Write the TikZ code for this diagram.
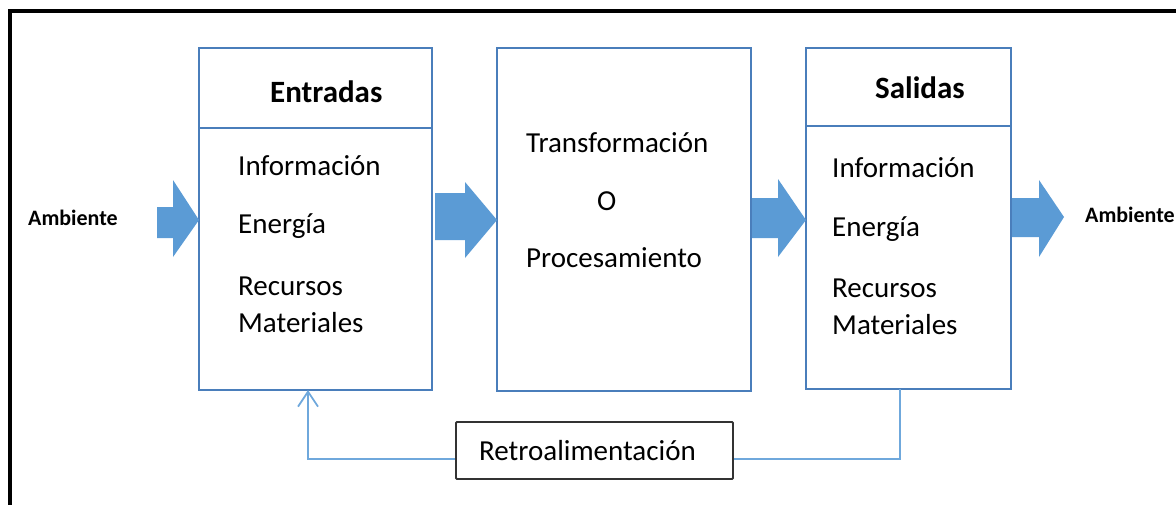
\documentclass[tikz,border=0pt]{standalone}
\usepackage{fontspec}
\setmainfont{Carlito}
\usetikzlibrary{arrows.meta}
\definecolor{boxblue}{HTML}{4A7EBB}
\definecolor{arrowblue}{HTML}{5B9BD5}
\definecolor{fbblue}{HTML}{6FA8DC}
\tikzset{
  sysbox/.style={draw=boxblue, line width=1.6pt, fill=white, inner sep=0pt},
  hline/.style={draw=boxblue, line width=1.6pt},
  txt/.style={anchor=base west, inner sep=0pt, font=\fontsize{29}{34}\selectfont},
  head/.style={anchor=base west, inner sep=0pt, font=\fontsize{31}{36}\selectfont\bfseries},
  amb/.style={anchor=base west, inner sep=0pt, font=\fontsize{22}{26}\selectfont\bfseries},
  blockarrow/.style={fill=arrowblue, draw=none},
  fbline/.style={draw=fbblue, line width=1.8pt},
  fbbox/.style={draw=black!80, line width=1.8pt, rounded corners=1pt, fill=white,
    minimum width=277pt, minimum height=57pt, inner sep=0pt, font=\fontsize{29}{34}\selectfont}
}
\begin{document}
\begin{tikzpicture}[x=1pt,y=-1pt]
\useasboundingbox (0,0) rectangle (1176,504);
\clip (0,0) rectangle (1176,504);
% outer frame
\draw[line width=3.6pt] (10,11) rectangle (1200,530);

% boxes
\node[sysbox, minimum width=233pt, minimum height=342pt] (ent) at (315.5,219) {};
\node[sysbox, minimum width=254pt, minimum height=343pt] (mid) at (624,219.5) {};
\node[sysbox, minimum width=205pt, minimum height=341pt] (sal) at (908.5,218.5) {};
\draw[hline] (ent.west |- {(0,128)}) -- (ent.east |- {(0,128)});
\draw[hline] (sal.west |- {(0,126)}) -- (sal.east |- {(0,126)});

% block arrows
\path[blockarrow] (157,207) -- (173,207) -- (173,180) -- (199,220) -- (173,257) -- (173,238) -- (157,238) -- cycle;
\path[blockarrow] (435,193) -- (465,193) -- (465,182) -- (497,220) -- (465,258) -- (465,240) -- (435,240) -- cycle;
\path[blockarrow] (752,198) -- (778,198) -- (778,179) -- (806,220) -- (778,257) -- (778,238) -- (752,238) -- cycle;
\path[blockarrow] (1012,198) -- (1039,198) -- (1039,180) -- (1064,217) -- (1039,257) -- (1039,237) -- (1012,237) -- cycle;

% texts
\node[amb] (amb1) at (28,225) {Ambiente};
\node[amb] (amb2) at (1085,222) {Ambiente};

\node[head] (enth) at (270,102) {Entradas};
\node[txt] (e1) at (238,175) {Información};
\node[txt] (e2) at (238,233) {Energía};
\node[txt] (e3) at (238,295) {Recursos};
\node[txt] (e4) at (238,332) {Materiales};

\node[txt] (m1) at (526,152) {Transformación};
\node[txt] (m2) at (597,210) {O};
\node[txt] (m3) at (526,267) {Procesamiento};

\node[head] (salh) at (875,98) {Salidas};
\node[txt] (s1) at (832,177) {Información};
\node[txt] (s2) at (832,236) {Energía};
\node[txt] (s3) at (832,297) {Recursos};
\node[txt] (s4) at (832,334) {Materiales};

% feedback
\node[fbbox] (fb) at (594.5,450.5) {\hspace*{-14pt}Retroalimentación};
\coordinate (fbs) at (900,389);
\coordinate (fbe) at (308,390);
\draw[fbline] (fbs) -- (fbs |- {(0,459)}) -- (fb.east |- {(0,459)});
\draw[fbline, -{Straight Barb[length=15pt,width=20pt,line width=1.8pt]}] (fb.west |- {(0,459)}) -- (fbe |- {(0,459)}) -- (fbe);
\end{tikzpicture}
\end{document}
